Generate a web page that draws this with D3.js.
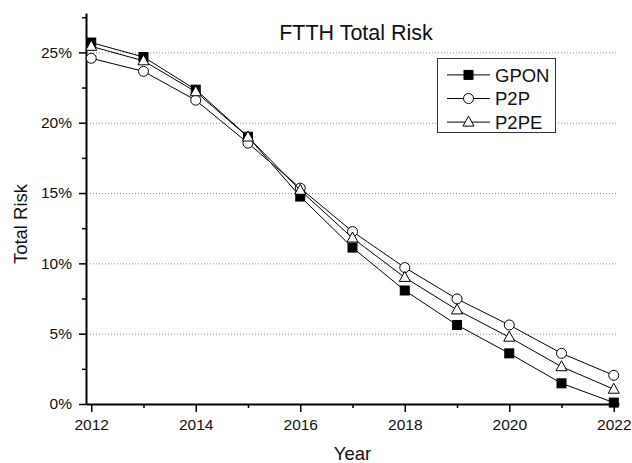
<!DOCTYPE html>
<html>
<head>
<meta charset="utf-8">
<script src="https://cdn.jsdelivr.net/npm/d3@7"></script>
<style>
  html, body { margin: 0; padding: 0; background: #fff; }
  svg { display: block; font-family: "Liberation Sans", Arial, sans-serif; }
</style>
</head>
<body>
<svg id="chart" width="632" height="463"></svg>
<script>
const years = [2012, 2013, 2014, 2015, 2016, 2017, 2018, 2019, 2020, 2021, 2022];
const seriesNames = ["GPON", "P2P", "P2PE"];
const gpon = [25.7, 24.67, 22.35, 19.0, 14.75, 11.12, 8.07, 5.62, 3.6, 1.47, 0.1];
const p2p  = [24.58, 23.65, 21.6, 18.55, 15.35, 12.26, 9.7, 7.47, 5.62, 3.6, 2.04];
const p2pe = [25.43, 24.4, 22.2, 18.98, 15.2, 11.8, 9.0, 6.69, 4.75, 2.65, 1.05];
const yTicks = [0, 5, 10, 15, 20, 25];
const yMinor = [2.5, 7.5, 12.5, 17.5, 22.5, 27.5];
const xTicks = [2012, 2014, 2016, 2018, 2020, 2022];
const xMinor = [2013, 2015, 2017, 2019, 2021];
const title = "FTTH Total Risk";
const xTitle = "Year";
const yTitle = "Total Risk";

const svg = d3.select("#chart");
const x = d3.scaleLinear().domain([2011.9, 2022.1]).range([86, 619]);
const y = d3.scaleLinear().domain([0, 27.8]).range([404, 13]);

// grid
svg.append("g").selectAll("line").data(yTicks.filter(d => d > 0)).join("line")
  .attr("x1", 90).attr("x2", 618)
  .attr("y1", d => y(d) + 0.5).attr("y2", d => y(d) + 0.5)
  .attr("stroke", "#888").attr("stroke-width", 1).attr("stroke-dasharray", "1,2");

// axes
const fontTick = "15.5px";
const yAxis = svg.append("g").attr("transform", "translate(86,0)")
  .call(d3.axisLeft(y).tickValues(yTicks).tickSize(7).tickSizeOuter(0).tickPadding(7).tickFormat(d => d + "%"));
const yAxisMinor = svg.append("g").attr("transform", "translate(86,0)")
  .call(d3.axisLeft(y).tickValues(yMinor).tickSize(4).tickSizeOuter(0).tickFormat(""));
const xAxis = svg.append("g").attr("transform", "translate(0,404)")
  .call(d3.axisBottom(x).tickValues(xTicks).tickSize(8).tickSizeOuter(0).tickPadding(7).tickFormat(d3.format("d")));
const xAxisMinor = svg.append("g").attr("transform", "translate(0,404)")
  .call(d3.axisBottom(x).tickValues(xMinor).tickSize(4).tickSizeOuter(0).tickFormat(""));

[yAxis, yAxisMinor, xAxis, xAxisMinor].forEach(g => {
  g.select(".domain").attr("stroke", "#000").attr("stroke-width", 2);
  g.selectAll(".tick line").attr("stroke", "#000").attr("stroke-width", 1.5);
  g.selectAll(".tick text").attr("fill", "#111").style("font-size", fontTick).style("font-family", "Liberation Sans, Arial, sans-serif");
});
yAxisMinor.select(".domain").remove();
xAxisMinor.select(".domain").remove();

// series
const seriesData = [gpon, p2p, p2pe];
const line = d3.line().x((d, i) => x(years[i])).y(d => y(d));
const triPath = "M0,-6L5.5,4L-5.5,4Z";

function drawMarker(g, type, cx, cy) {
  if (type === 0) {
    g.append("rect").attr("x", cx - 4.5).attr("y", cy - 4.5).attr("width", 9).attr("height", 9)
      .attr("fill", "#000").attr("stroke", "#000").attr("stroke-width", 1);
  } else if (type === 1) {
    g.append("circle").attr("cx", cx).attr("cy", cy).attr("r", 5)
      .attr("fill", "#fff").attr("stroke", "#000").attr("stroke-width", 1);
  } else {
    g.append("path").attr("d", triPath).attr("transform", `translate(${cx},${cy})`)
      .attr("fill", "#fff").attr("stroke", "#000").attr("stroke-width", 1);
  }
}

seriesData.forEach((vals, si) => {
  const g = svg.append("g");
  g.append("path").datum(vals).attr("d", line).attr("fill", "none").attr("stroke", "#000").attr("stroke-width", 1);
  vals.forEach((v, i) => drawMarker(g, si, x(years[i]), y(v)));
});

// title
svg.append("text").attr("x", 356).attr("y", 40).attr("text-anchor", "middle")
  .style("font-size", "21.5px").attr("fill", "#111").text(title);

// axis titles
svg.append("text").attr("x", 352.5).attr("y", 459.5).attr("text-anchor", "middle")
  .style("font-size", "18.5px").attr("fill", "#111").text(xTitle);
svg.append("text").attr("transform", "translate(27,224) rotate(-90)").attr("text-anchor", "middle")
  .style("font-size", "18.5px").attr("fill", "#111").text(yTitle);

// legend
const lg = svg.append("g");
lg.append("rect").attr("x", 437.5).attr("y", 58.5).attr("width", 118).attr("height", 74)
  .attr("fill", "#fff").attr("stroke", "#333").attr("stroke-width", 1);
seriesNames.forEach((name, i) => {
  const by = 81.5 + i * 23.6;
  const cy = by - 6.6;
  lg.append("line").attr("x1", 447).attr("x2", 490).attr("y1", cy).attr("y2", cy)
    .attr("stroke", "#000").attr("stroke-width", 1);
  drawMarker(lg, i, 468.5, cy);
  lg.append("text").attr("x", 495).attr("y", by).style("font-size", "18.5px").attr("fill", "#111").text(name);
});
</script>
</body>
</html>
